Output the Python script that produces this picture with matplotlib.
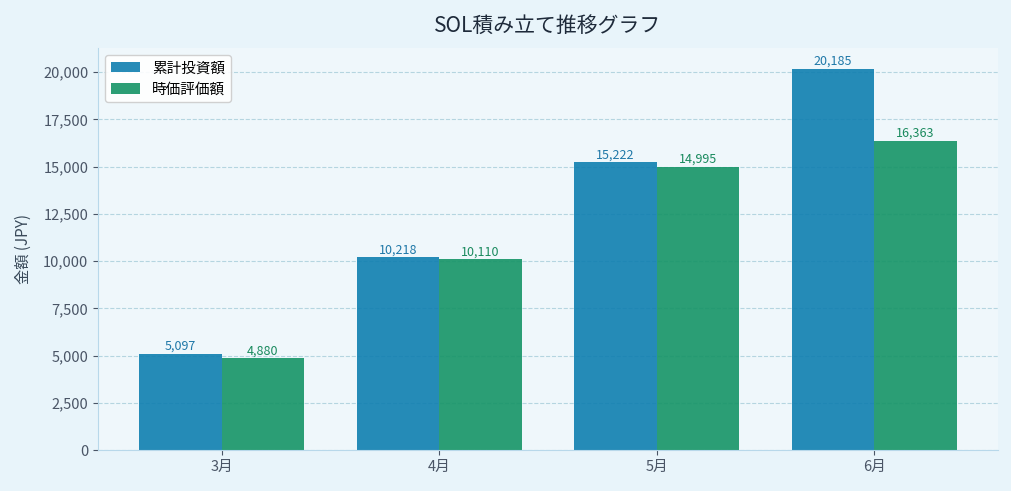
import numpy as np
import matplotlib.pyplot as plt

plt.rcParams['font.family'] = ['Noto Sans CJK JP', 'DejaVu Sans']

months = ['3月', '4月', '5月', '6月']
invested = [5097, 10218, 15222, 20185]
market_value = [4880, 10110, 14995, 16363]

fig, ax = plt.subplots(figsize=(10.11, 4.91), dpi=100)
fig.patch.set_facecolor('#e8f4fa')
ax.set_facecolor('#eff7fb')

x = np.arange(len(months))
w = 0.38
b1 = ax.bar(x - w / 2, invested, w, color='#0f7fb0', alpha=0.9, label='累計投資額', zorder=2)
b2 = ax.bar(x + w / 2, market_value, w, color='#159466', alpha=0.9, label='時価評価額', zorder=2)

# 値ラベル
for rect, v in zip(b1, invested):
    ax.text(rect.get_x() + rect.get_width() / 2, v + 40, f'{v:,}', ha='center', va='bottom',
            fontsize=9, color='#1f78a8')
for rect, v in zip(b2, market_value):
    ax.text(rect.get_x() + rect.get_width() / 2, v + 40, f'{v:,}', ha='center', va='bottom',
            fontsize=9, color='#1a8a5e')

ax.set_xticks(x)
ax.set_xticklabels(months)
ax.yaxis.set_major_formatter(plt.FuncFormatter(lambda v, p: f'{int(v):,}'))
ax.set_ylim(0, 21270)
ax.set_ylabel('金額 (JPY)', fontsize=11, color='#3a4a5a', labelpad=8)
ax.set_title('SOL積み立て推移グラフ', fontsize=15, color='#1e2a3a', pad=12)

ax.grid(axis='y', linestyle='--', color='#b5d5e0', linewidth=0.8, zorder=0)
ax.set_axisbelow(True)
for s in ['top', 'right']:
    ax.spines[s].set_visible(False)
for s in ['left', 'bottom']:
    ax.spines[s].set_color('#b8d8ea')
ax.tick_params(colors='#4a5566', labelsize=10.5)

ax.legend(loc='upper left', fontsize=10.5, framealpha=0.9, edgecolor='#cccccc')

plt.subplots_adjust(left=0.097, right=0.987, top=0.902, bottom=0.083)
plt.savefig('out.png')
